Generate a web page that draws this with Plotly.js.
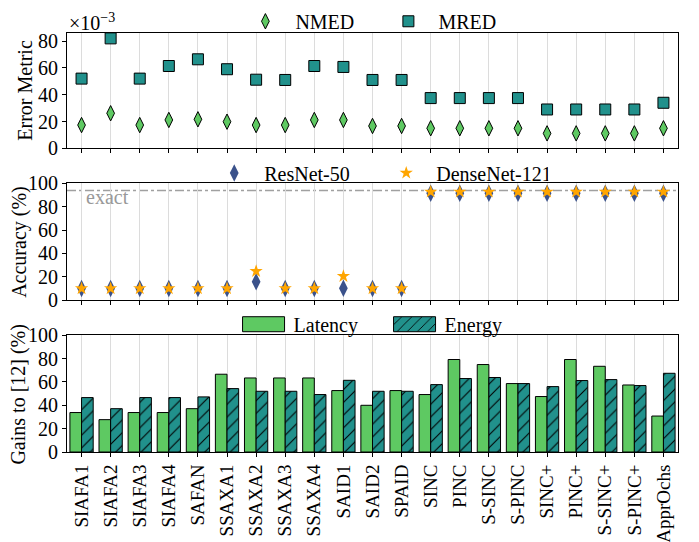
<!DOCTYPE html>
<html>
<head>
<meta charset="utf-8">
<script src="https://cdn.plot.ly/plotly-3.0.1.min.js"></script>
<style>html,body{margin:0;padding:0;background:#fff;}#chart{width:699px;height:542px;}</style>
</head>
<body>
<div id="chart"></div>
<script>
const categories = ["SIAFA1","SIAFA2","SIAFA3","SIAFA4","SAFAN","SSAXA1","SSAXA2","SSAXA3","SSAXA4","SAID1","SAID2","SPAID","SINC","PINC","S-SINC","S-PINC","SINC+","PINC+","S-SINC+","S-PINC+","ApprOchs"];
// Error metric (x10^-3)
const nmed = [17.4,26.2,17.4,21.2,21.7,19.9,17.4,17.4,21.2,21.2,16.7,16.7,15,15,15,15,11.2,11.2,11.2,11.2,15];
const mred = [52,82,52,61.4,66.4,59,51.2,51,61.4,60.7,51,51,37.5,37.5,37.5,37.5,29,29,29,29,34];
// Accuracy (%)
const resnet50 = [10,10,10,10,10,10,15.8,10,10,10.3,10,10,91.6,91.6,91.6,91.6,91.6,91.6,91.6,91.6,91.6];
const densenet121 = [10,10,10,10,10,10,24.8,10,10,20.5,10,10,92.8,92.8,92.8,92.8,92.8,92.8,92.8,92.8,92.8];
const exactAccuracy = 94;
// Gains to [12] (%)
const latency = [33.8,27.7,33.8,33.8,37.1,66.6,63.4,63.4,63.4,52.6,40,52.6,49.2,79.2,74.9,58.6,47.5,79.2,73.4,57.4,30.8];
const energy = [46.6,37.1,46.6,46.6,47.2,54.3,52,52,49.2,61.4,52,52,57.7,62.9,63.8,58.6,56,61.2,62,56.9,67.4];
// Axis titles
const yTitles = ["Error Metric", "Accuracy (%)", "Gains to [12] (%)"];

const FONT = "Liberation Serif, Times New Roman, serif";
const C_GREEN = "#5ec962", C_TEAL = "#21918c", C_BLUE = "#3b528b", C_ORANGE = "#ffa500";

const traces = [
  {type:"scatter", mode:"markers", name:"NMED", x:categories, y:nmed, xaxis:"x", yaxis:"y", legend:"legend",
   marker:{symbol:"diamond-tall", size:11, color:C_GREEN, line:{color:"#000", width:1}}},
  {type:"scatter", mode:"markers", name:"MRED", x:categories, y:mred, xaxis:"x", yaxis:"y", legend:"legend",
   marker:{symbol:"square", size:11, color:C_TEAL, line:{color:"#000", width:1}}},
  {type:"scatter", mode:"markers", name:"ResNet-50", x:categories, y:resnet50, xaxis:"x2", yaxis:"y2", legend:"legend2",
   marker:{symbol:"diamond-tall", size:12.5, color:C_BLUE, line:{width:0}}},
  {type:"scatter", mode:"markers", name:"DenseNet-121", x:categories, y:densenet121, xaxis:"x2", yaxis:"y2", legend:"legend2",
   marker:{symbol:"star", size:10, color:C_ORANGE, line:{width:0}}},
  {type:"bar", name:"Latency", x:categories, y:latency, xaxis:"x3", yaxis:"y3", legend:"legend3",
   marker:{color:C_GREEN, line:{color:"#000", width:1}}},
  {type:"bar", name:"Energy", x:categories, y:energy, xaxis:"x3", yaxis:"y3", legend:"legend3",
   marker:{color:C_TEAL, line:{color:"#000", width:1},
     pattern:{shape:"/", fgcolor:"#000", bgcolor:C_TEAL, size:9, solidity:0.12}}}
];

const xCommon = {
  type:"category", range:[-0.5, 20.5], showgrid:true, gridcolor:"#dcdcdc", gridwidth:1,
  ticks:"outside", ticklen:4, tickcolor:"#000", showline:true, linecolor:"#000", linewidth:1, mirror:true,
  zeroline:false, tickfont:{family:FONT, size:19, color:"#000"}
};
const yCommon = {
  showgrid:false, zeroline:false, ticks:"outside", ticklen:4, tickcolor:"#000", showline:true, linecolor:"#000",
  linewidth:1, mirror:true, tickfont:{family:FONT, size:20, color:"#000"}
};

const legendCommon = {orientation:"h", font:{family:FONT, size:20, color:"#000"}, bgcolor:"rgba(0,0,0,0)",
  xanchor:"left", yanchor:"middle", itemwidth:50, tracegroupgap:0};

const titleFont = {family:FONT, size:20, color:"#000"};
const layout = {
  width:699, height:542, paper_bgcolor:"#fff", plot_bgcolor:"#fff",
  margin:{l:67, r:21, t:33, b:90, autoexpand:false},
  font:{family:FONT, color:"#000"},
  showlegend:true,
  barmode:"group", bargap:0.2, bargroupgap:0,
  xaxis: Object.assign({}, xCommon, {anchor:"y", showticklabels:false}),
  xaxis2: Object.assign({}, xCommon, {anchor:"y2", showticklabels:false, matches:"x"}),
  xaxis3: Object.assign({}, xCommon, {anchor:"y3", tickangle:-90, matches:"x"}),
  yaxis: Object.assign({}, yCommon, {domain:[0.7246,1], range:[0,86], tickvals:[0,20,40,60,80]}),
  yaxis2: Object.assign({}, yCommon, {domain:[0.3623,0.641], range:[0,100], tickvals:[0,20,40,60,80,100]}),
  yaxis3: Object.assign({}, yCommon, {domain:[0,0.2787], range:[0,100], tickvals:[0,20,40,60,80,100]}),
  legend: Object.assign({}, legendCommon, {x:0.2756, y:1.028, entrywidth:78}),
  legend2: Object.assign({}, legendCommon, {x:0.2246, y:0.666, entrywidth:107}),
  legend3: Object.assign({}, legendCommon, {x:0.2726, y:0.305, entrywidth:86}),
  shapes:[{type:"line", xref:"x2 domain", yref:"y2", x0:0, x1:1, y0:exactAccuracy, y1:exactAccuracy,
    line:{color:"#a0a0a0", width:1.5, dash:"dashdot"}, layer:"below"}],
  annotations:[
    {xref:"paper", yref:"paper", x:0, y:1.0, yshift:-3, xanchor:"left", yanchor:"bottom", showarrow:false,
     text:"×10<sup>−3</sup>", font:{family:FONT, size:20, color:"#000"}},
    {xref:"paper", yref:"y2", x:0.028, y:exactAccuracy, yshift:-7, xanchor:"left", yanchor:"middle", showarrow:false,
     text:"exact", font:{family:FONT, size:20, color:"#999"}},
    {xref:"paper", yref:"y domain", x:-0.0687, y:0.5, xanchor:"center", yanchor:"middle", textangle:-90,
     showarrow:false, text:yTitles[0], font:titleFont},
    {xref:"paper", yref:"y2 domain", x:-0.0769, y:0.5, xanchor:"center", yanchor:"middle", textangle:-90,
     showarrow:false, text:yTitles[1], font:titleFont},
    {xref:"paper", yref:"y3 domain", x:-0.0786, y:0.5, xanchor:"center", yanchor:"middle", textangle:-90,
     showarrow:false, text:yTitles[2], font:titleFont}
  ]
};

Plotly.newPlot("chart", traces, layout, {displayModeBar:false, staticPlot:true}).then(function(gd){
  // enlarge bar legend patches to match the reference's wide swatches
  document.querySelectorAll("g.legend3 path.legendbar, g.legend3 .legendpoints path").forEach(function(p){
    p.setAttribute("d", "M21,7.5H-21V-7.5H21Z");
  });
});
</script>
</body>
</html>
